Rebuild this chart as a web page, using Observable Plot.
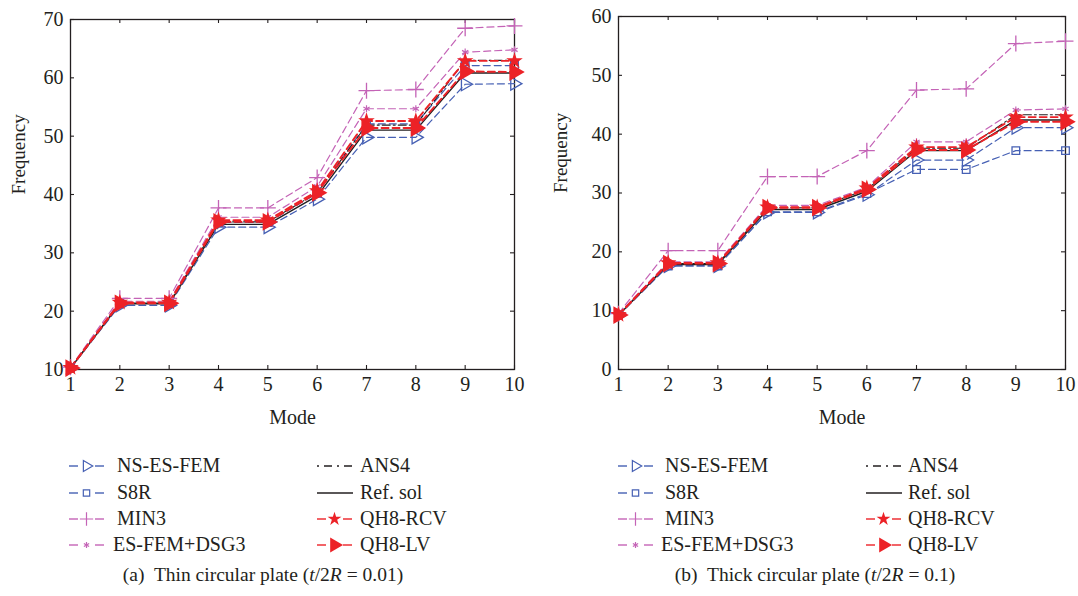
<!DOCTYPE html>
<html><head><meta charset="utf-8">
<script src="https://cdn.jsdelivr.net/npm/d3@7"></script>
<script src="https://cdn.jsdelivr.net/npm/@observablehq/plot@0.6"></script>
<style>
body{margin:0;background:#fff;font-family:"Liberation Serif","DejaVu Serif",serif;color:#231f20;}
#wrap{position:relative;width:1078px;height:596px;overflow:hidden;}
.panel{position:absolute;top:0;}
.leg{position:absolute;font-size:20px;line-height:1;white-space:nowrap;}
.leg svg{position:absolute;}
.cap{position:absolute;font-size:19.5px;white-space:nowrap;transform:translateX(-50%);}
</style></head><body><div id="wrap"></div>
<script>
// ---- data ----
const modes = [1, 2, 3, 4, 5, 6, 7, 8, 9, 10];
const seriesNames = ["NS-ES-FEM", "S8R", "MIN3", "ES-FEM+DSG3", "ANS4", "Ref. sol", "QH8-RCV", "QH8-LV"];

// (a) thin circular plate t/2R = 0.01
const thinNSESFEM = [10.2, 21.0, 21.0, 34.4, 34.4, 39.2, 49.8, 49.8, 58.9, 59.0];
const thinS8R     = [10.25, 21.35, 21.35, 35.2, 35.2, 40.2, 52.1, 52.1, 62.1, 62.1];
const thinMIN3    = [10.4, 22.2, 22.2, 37.7, 37.7, 42.9, 57.8, 58.0, 68.5, 68.9];
const thinDSG3    = [10.3, 21.7, 21.7, 36.1, 36.1, 41.4, 54.7, 54.7, 64.4, 64.8];
const thinANS4    = [10.25, 21.4, 21.4, 35.3, 35.3, 40.3, 51.9, 51.9, 63.0, 63.0];
const thinRef     = [10.22, 21.26, 21.26, 34.88, 34.88, 39.77, 51.03, 51.03, 60.83, 60.83];
const thinRCV     = [10.3, 21.5, 21.5, 35.6, 35.6, 40.6, 52.6, 52.6, 62.9, 62.9];
const thinLV      = [10.25, 21.35, 21.35, 35.3, 35.3, 40.3, 51.4, 51.4, 61.1, 61.0];

// (b) thick circular plate t/2R = 0.1
const thickNSESFEM = [9.2, 17.6, 17.6, 26.7, 26.7, 29.7, 35.6, 35.6, 41.1, 41.1];
const thickS8R     = [9.2, 17.6, 17.6, 26.8, 26.8, 29.9, 34.0, 34.0, 37.2, 37.2];
const thickMIN3    = [9.5, 20.2, 20.2, 32.8, 32.8, 37.2, 47.5, 47.7, 55.4, 55.8];
const thickDSG3    = [9.4, 18.3, 18.3, 27.9, 27.9, 31.0, 38.7, 38.7, 44.1, 44.3];
const thickANS4    = [9.3, 18.0, 18.0, 27.5, 27.5, 30.6, 37.6, 37.6, 43.3, 43.3];
const thickRef     = [9.24, 17.85, 17.85, 27.2, 27.2, 30.3, 37.2, 37.2, 42.4, 42.4];
const thickRCV     = [9.3, 18.1, 18.1, 27.6, 27.6, 30.8, 37.8, 37.8, 42.9, 42.9];
const thickLV      = [9.25, 18.0, 18.0, 27.5, 27.5, 30.6, 37.3, 37.3, 42.1, 42.1];

const thinYTicks = [10, 20, 30, 40, 50, 60, 70];
const thickYTicks = [0, 10, 20, 30, 40, 50, 60];
const xLabel = "Mode";
const yLabel = "Frequency";

// ---- styles ----
const BLUE = "#4660b4", MAG = "#c463b6", RED = "#ec2227", BLK = "#231f20";
const sty = {
  "NS-ES-FEM":   {stroke: BLUE, dash: "7,4", sw: 1.2, symbol: "triangle", rotate: 90, fill: "none", r: 4.8, dsw: 1.3},
  "S8R":         {stroke: BLUE, dash: "7,4", sw: 1.2, symbol: "square", rotate: 0, fill: "none", r: 4.3, dsw: 1.3},
  "MIN3":        {stroke: MAG,  dash: "7,4", sw: 1.2, symbol: "plus", rotate: 0, fill: "none", r: 5.2, dsw: 1.3},
  "ES-FEM+DSG3": {stroke: MAG,  dash: "7,4", sw: 1.2, symbol: "asterisk", rotate: 0, fill: "none", r: 3.4, dsw: 1.2},
  "ANS4":        {stroke: BLK,  dash: "8,3,2,3", sw: 1.1, symbol: null},
  "Ref. sol":    {stroke: BLK,  dash: null, sw: 1.4, symbol: null},
  "QH8-RCV":     {stroke: RED,  dash: "7,4", sw: 1.9, symbol: "star", rotate: 0, fill: RED, r: 5.2, dsw: 0},
  "QH8-LV":      {stroke: RED,  dash: "7,4", sw: 1.9, symbol: "triangle", rotate: 90, fill: RED, r: 6.6, dsw: 0}
};

function table(arrs) {
  const rows = [];
  seriesNames.forEach((s, i) => arrs[i].forEach((v, j) => rows.push({series: s, mode: modes[j], value: v})));
  return rows;
}

function panel({rows, yTicks, width, height, ml, mr, mt, mb, labelOff}) {
  const pw = width - ml - mr, ph = height - mt - mb;
  const marks = [
    Plot.frame({stroke: BLK, strokeWidth: 1.3}),
    Plot.tickX(modes, {x: d => d, insetTop: ph - 4, stroke: BLK, strokeWidth: 1.1}),
    Plot.tickX(modes, {x: d => d, insetBottom: ph - 4, stroke: BLK, strokeWidth: 1.1}),
    Plot.tickY(yTicks, {y: d => d, insetRight: pw - 4, stroke: BLK, strokeWidth: 1.1}),
    Plot.tickY(yTicks, {y: d => d, insetLeft: pw - 4, stroke: BLK, strokeWidth: 1.1}),
    Plot.axisX(modes, {tickSize: 0, tickPadding: 7, fontSize: 20, label: null}),
    Plot.axisY(yTicks, {tickSize: 0, tickPadding: 7, fontSize: 20, label: null}),
    Plot.text([xLabel], {frameAnchor: "bottom", dy: 54, fontSize: 20, fill: BLK}),
    Plot.text([yLabel], {frameAnchor: "left", dx: -labelOff, rotate: -90, fontSize: 19, fill: BLK})
  ];
  for (const s of seriesNames) {
    const st = sty[s];
    const d = rows.filter(r => r.series === s);
    marks.push(Plot.line(d, {x: "mode", y: "value", stroke: st.stroke, strokeWidth: st.sw, strokeDasharray: st.dash || undefined}));
  }
  for (const s of seriesNames) {
    const st = sty[s];
    if (!st.symbol) continue;
    const d = rows.filter(r => r.series === s);
    marks.push(Plot.dot(d, {x: "mode", y: "value", symbol: st.symbol, r: st.r, rotate: st.rotate,
      fill: st.fill, stroke: st.fill === "none" ? st.stroke : "none", strokeWidth: st.dsw}));
  }
  return Plot.plot({
    width, height, marginLeft: ml, marginRight: mr, marginTop: mt, marginBottom: mb,
    x: {domain: [1, 10], label: null},
    y: {domain: [yTicks[0], yTicks[yTicks.length - 1]], label: null},
    style: {fontFamily: '"Liberation Serif", serif', fontSize: "20px", color: BLK, background: "white"},
    marks
  });
}

const wrap = document.getElementById("wrap");
function place(node, left) {
  const d = document.createElement("div"); d.className = "panel"; d.style.left = left + "px";
  d.appendChild(node); wrap.appendChild(d);
}
place(panel({rows: table([thinNSESFEM, thinS8R, thinMIN3, thinDSG3, thinANS4, thinRef, thinRCV, thinLV]),
  yTicks: thinYTicks, width: 539, height: 432, ml: 70, mr: 25, mt: 19, mb: 63, labelOff: 52}), 0);
place(panel({rows: table([thickNSESFEM, thickS8R, thickMIN3, thickDSG3, thickANS4, thickRef, thickRCV, thickLV]),
  yTicks: thickYTicks, width: 539, height: 432, ml: 79, mr: 13, mt: 16, mb: 63, labelOff: 58}), 539);

// ---- legends ----
const symMap = {triangle: d3.symbolTriangle, square: d3.symbolSquare, plus: d3.symbolPlus, asterisk: d3.symbolAsterisk, star: d3.symbolStar};
function legendItem(name, sx, tx, y) {
  const st = sty[name];
  const div = document.createElement("div");
  div.className = "leg"; div.style.left = "0px"; div.style.top = "0px";
  const svg = d3.create("svg").attr("width", 40).attr("height", 16)
    .style("left", sx + "px").style("top", (y - 8) + "px");
  if (!st.symbol) {
    svg.append("line").attr("x1", 0).attr("x2", 36).attr("y1", 8).attr("y2", 8)
      .attr("stroke", st.stroke).attr("stroke-width", 1.3)
      .attr("stroke-dasharray", name === "ANS4" ? "2,5,8,5" : null);
  } else {
    svg.append("line").attr("x1", 0).attr("x2", 9).attr("y1", 8).attr("y2", 8).attr("stroke", st.stroke).attr("stroke-width", 1.4);
    svg.append("line").attr("x1", 26).attr("x2", 35).attr("y1", 8).attr("y2", 8).attr("stroke", st.stroke).attr("stroke-width", 1.4);
    svg.append("path").attr("d", d3.symbol(symMap[st.symbol], Math.PI * st.r * st.r * 0.7)())
      .attr("transform", `translate(17.5,8) rotate(${st.rotate})`)
      .attr("fill", st.fill).attr("stroke", st.fill === "none" ? st.stroke : "none").attr("stroke-width", 1.2);
  }
  div.appendChild(svg.node());
  const t = document.createElement("span");
  t.textContent = name; t.style.position = "absolute"; t.style.left = tx + "px"; t.style.top = (y - 11) + "px";
  div.appendChild(t);
  wrap.appendChild(div);
}
const rowsY = [466, 493, 519, 545];
function legend(c1s, c1t, c2s, c2t) {
  seriesNames.slice(0, 4).forEach((n, i) => legendItem(n, c1s, n === "ES-FEM+DSG3" ? c1t - 4 : c1t, rowsY[i]));
  seriesNames.slice(4).forEach((n, i) => legendItem(n, c2s, c2t, rowsY[i]));
}
legend(69, 117, 317, 360);
legend(618, 665, 866, 908);

// ---- captions ----
function caption(html, cx) {
  const d = document.createElement("div"); d.className = "cap";
  d.style.left = cx + "px"; d.style.top = "564px"; d.innerHTML = html; wrap.appendChild(d);
}
caption('(a)&nbsp; Thin circular plate (<i>t</i>/2<i>R</i> = 0.01)', 263);
caption('(b)&nbsp; Thick circular plate (<i>t</i>/2<i>R</i> = 0.1)', 815);
</script></body></html>
